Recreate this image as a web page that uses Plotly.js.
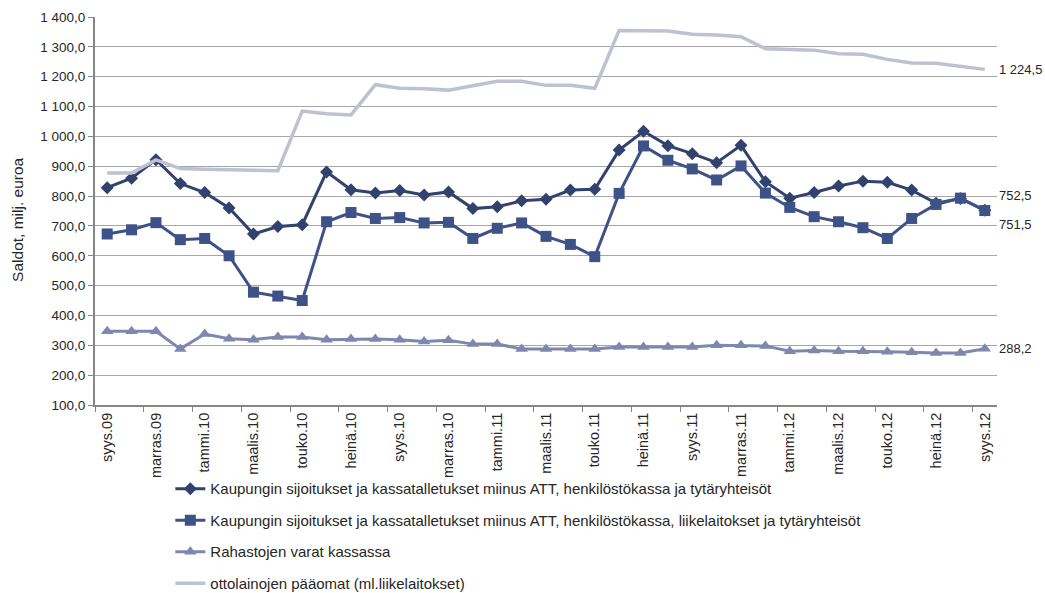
<!DOCTYPE html>
<html><head><meta charset="utf-8">
<script src="https://cdn.plot.ly/plotly-3.0.1.min.js"></script>
<style>html,body{margin:0;padding:0;background:#fff}#chart{width:1045px;height:593px}</style>
</head><body><div id="chart"></div>
<script>
const months = ["syys.09","loka.09","marras.09","joulu.09","tammi.10","helmi.10","maalis.10","huhti.10","touko.10","kesä.10","heinä.10","elo.10",
"syys.10","loka.10","marras.10","joulu.10","tammi.11","helmi.11","maalis.11","huhti.11","touko.11","kesä.11","heinä.11","elo.11",
"syys.11","loka.11","marras.11","joulu.11","tammi.12","helmi.12","maalis.12","huhti.12","touko.12","kesä.12","heinä.12","elo.12","syys.12"];

const seriesNames = [
 "Kaupungin sijoitukset ja kassatalletukset miinus ATT, henkilöstökassa ja tytäryhteisöt",
 "Kaupungin sijoitukset ja kassatalletukset miinus ATT, henkilöstökassa, liikelaitokset ja tytäryhteisöt",
 "Rahastojen varat kassassa",
 "ottolainojen pääomat (ml.liikelaitokset)"
];
const yTitle = "Saldot, milj. euroa";

const sijoitukset = [828,860,922,842,812,760,673,698,704,881,821,810,819,804,814,758,764,784,789,820,823,954,1017,969,942,912,970,848,793,812,834,850,846,820,776,792,752.5];
const sijoituksetLiike = [673,687,711,654,658,600,478,465,450,714,745,725,728,710,712,658,692,710,665,638,597,809,968,920,891,854,901,810,762,731,714,694,658,725,772,793,751.5];
const rahastot = [347,347,347,288,338,322,319,328,328,319,321,321,319,313,317,304,304,288,288,288,288,294,294,294,294,300,300,298,280,283,280,280,278,277,274,274,288.2];
const ottolainat = [877,877,921,892,890,889,886,885,1085,1076,1072,1173,1161,1160,1155,1171,1185,1185,1171,1171,1161,1355,1355,1353,1342,1340,1334,1294,1291,1289,1277,1275,1258,1246,1245,1234,1224.5];

const idx = months.map((_, i) => i);
const tickIdx = idx.filter(i => i % 2 === 0);
const tickText = tickIdx.map(i => months[i]);

const cols = ["#31426E", "#3E5288", "#7D88AC", "#BDC1D1"];
const fmt = v => v.toFixed(1).replace('.', ',').replace(/\B(?=(\d{3})+(?!\d))/g, ' ');
const FF = 'Liberation Sans, Arial, sans-serif';

const traces = [
 {y: sijoitukset, name: seriesNames[0], mode: 'lines+markers', line: {color: cols[0], width: 3}, marker: {symbol: 'diamond', size: 10, color: cols[0]}},
 {y: sijoituksetLiike, name: seriesNames[1], mode: 'lines+markers', line: {color: cols[1], width: 3}, marker: {symbol: 'square', size: 11, color: cols[1]}},
 {y: rahastot, name: seriesNames[2], mode: 'lines+markers', line: {color: cols[2], width: 3}, marker: {symbol: 'triangle-up', size: 11, color: cols[2]}},
 {y: ottolainat, name: seriesNames[3], mode: 'lines', line: {color: cols[3], width: 3.5}}
].map((t, k) => Object.assign({x: idx, type: 'scatter', legendgroup: 'g' + k, hoverinfo: 'y'}, t));

const last = a => a[a.length - 1];
const annFont = {family: FF, size: 13, color: '#262626'};
const annotations = [
 {v: last(ottolainat), shift: 0},
 {v: last(sijoitukset), shift: 15},
 {v: last(sijoituksetLiike), shift: -14},
 {v: last(rahastot), shift: 0}
].map(a => ({xref: 'paper', x: 1, xanchor: 'left', yref: 'y', y: a.v, yshift: a.shift, text: fmt(a.v), showarrow: false, font: annFont, xshift: 0}));
annotations.push({xref: 'paper', yref: 'paper', x: -0.0854, y: 0.477, xanchor: 'center', yanchor: 'middle', textangle: -90,
 text: yTitle, showarrow: false, font: {family: FF, size: 15.5, color: '#262626'}});

const layout = {
 width: 1045, height: 593,
 margin: {l: 95, r: 48, t: 17, b: 188, autoexpand: false},
 paper_bgcolor: '#fff', plot_bgcolor: '#fff',
 separators: ', ',
 font: {family: FF, size: 13, color: '#262626'},
 showlegend: true,
 legend: {orientation: 'v', xref: 'container', x: 0.163, xanchor: 'left', yref: 'container', y: 0.2034, yanchor: 'top',
  traceorder: 'grouped', tracegroupgap: 9, itemwidth: 30, font: {size: 15, color: '#262626'}, bgcolor: 'rgba(0,0,0,0)'},
 xaxis: {
  range: [-0.5, 36.5], tickmode: 'array', tickvals: tickIdx, ticktext: tickText, tickangle: -90,
  ticks: '', showgrid: false, zeroline: false, showline: true, linecolor: '#868686', linewidth: 2,
  tickfont: {size: 14.5},
  minor: {tickmode: 'linear', tick0: -0.5, dtick: 2, ticks: 'outside', ticklen: 5, tickcolor: '#868686', tickwidth: 1, showgrid: false}
 },
 yaxis: {
  range: [100, 1400], dtick: 100, tick0: 100, tickformat: ',.1f', ticks: 'outside', ticklen: 5, tickcolor: '#868686',
  showgrid: true, gridcolor: '#A6A6A6', gridwidth: 1, zeroline: false, showline: true, linecolor: '#868686', linewidth: 2,
  tickfont: {size: 13.5}
 },
 annotations: annotations
};

Plotly.newPlot('chart', traces, layout, {displayModeBar: false, staticPlot: true});
</script></body></html>
